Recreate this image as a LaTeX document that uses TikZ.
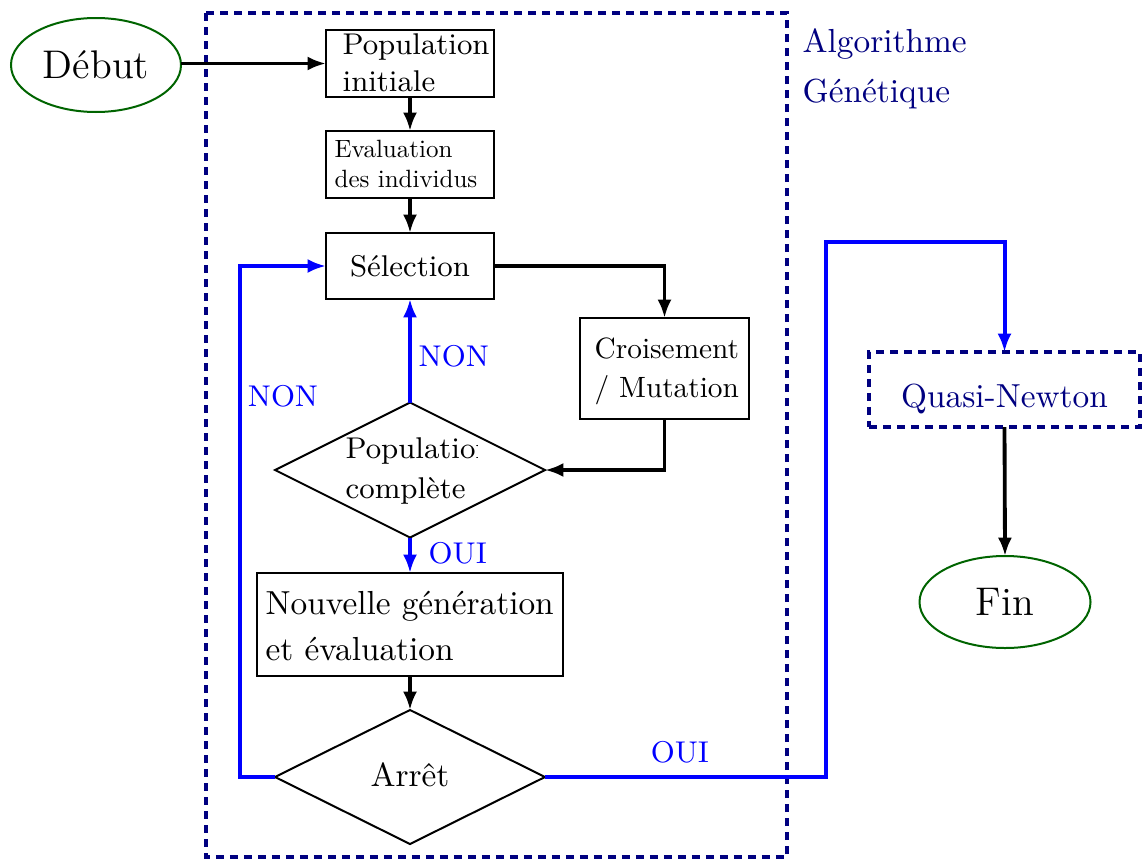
\documentclass[tikz,border=0pt]{standalone}
\usetikzlibrary{shapes.geometric,arrows.meta}
\definecolor{navy}{RGB}{0,0,128}
\definecolor{dgreen}{RGB}{0,100,0}
\definecolor{pblue}{RGB}{0,0,255}
\begin{document}
\begin{tikzpicture}[x=0.3pt,y=-0.3pt,
  boxnode/.style={draw,line width=0.6pt,inner sep=0pt,outer sep=0pt},
  ellnode/.style={draw=dgreen,ellipse,line width=0.6pt,inner sep=0pt,outer sep=0pt,font=\large},
  dianode/.style={draw,diamond,line width=0.6pt,inner sep=0pt,outer sep=0pt},
  blk/.style={line width=1.15pt,-{Latex[length=5.5pt,width=4.2pt]}},
  blu/.style={line width=1.2pt,draw=pblue,-{Latex[length=5.5pt,width=4.2pt]}},
  lbl/.style={text=pblue,font=\small,inner sep=0pt},
  frame/.style={draw=navy,line width=1.2pt,dash pattern=on 2.4pt off 1.8pt}]
\useasboundingbox (0,0) rectangle (1143,859);
% outer frame
\draw[frame] (206,13) rectangle (787,857);
\node[anchor=north west,text=navy,align=left,inner sep=0pt] (algo) at (802,28) {Algorithme\\[3pt]Génétique};
% nodes
\node[ellnode,minimum width=170*0.3pt,minimum height=94*0.3pt] (debut) at (96,65) {Début};
\node[boxnode,minimum width=168*0.3pt,minimum height=67*0.3pt] (pop) at (410,63.5) {};
\node[anchor=north west,font=\small,align=left,inner sep=0pt] (poptxt) at (342,33) {Population\\initiale};
\node[boxnode,minimum width=168*0.3pt,minimum height=67*0.3pt] (eval) at (410,164.5) {};
\node[anchor=west,inner sep=0pt] (evaltxt) at (334,166) {\scalebox{0.75}{\begin{tabular}{@{}l@{}}Evaluation\\des individus\end{tabular}}};
\node[boxnode,minimum width=168*0.3pt,minimum height=66*0.3pt,font=\small] (sel) at (410,266) {Sélection};
\node[boxnode,minimum width=169*0.3pt,minimum height=101*0.3pt] (crois) at (664.5,368.5) {};
\node[anchor=west,inner sep=0pt] (croistxt) at (594,371) {\scalebox{0.88}{\begin{tabular}{@{}l@{}}Croisement\\[1pt]/ Mutation\end{tabular}}};
\node[dianode,minimum width=270*0.3pt,minimum height=135*0.3pt,aspect=2] (comp) at (410,470) {};
\begin{scope}
\clip (300,420) rectangle (477,520);
\node[anchor=west,font=\small,align=left,inner sep=0pt] (comptxt) at (345,471) {Population\\[1pt]complète};
\end{scope}
\node[boxnode,minimum width=306*0.3pt,minimum height=103*0.3pt] (nouv) at (410,624.5) {};
\node[anchor=west,align=left,inner sep=0pt] (nouvtxt) at (265,626) {Nouvelle génération\\[2pt]et évaluation};
\node[dianode,minimum width=270*0.3pt,minimum height=134*0.3pt,aspect=2] (arret) at (410,777) {};
\node (arrettxt) at (410,775) {Arrêt};
\node[draw=navy,line width=1.2pt,dash pattern=on 2.4pt off 1.8pt,minimum width=271*0.3pt,minimum height=75*0.3pt,inner sep=0pt,outer sep=0pt] (qn) at (1004.5,389.5) {};
\node[text=navy] (qntxt) at (1004.5,399) {Quasi-Newton};
\node[ellnode,minimum width=171*0.3pt,minimum height=92*0.3pt] (fin) at (1005,602) {Fin};
% connectors
\draw[blk] (debut.east |- pop.west) -- (pop.west);
\draw[blk] (pop.south) -- (eval.north);
\draw[blk] (eval.south) -- (sel.north);
\draw[blk] (sel.east) -| (crois.north);
\draw[blk] (crois.south) |- (comp.east);
\draw[blu] (comp.north) -- node[lbl,anchor=west,xshift=2pt,pos=0.45] (non1) {NON} (sel.south);
\draw[blu] (comp.south) -- node[lbl,anchor=west,xshift=5pt,pos=0.45] (oui1) {OUI} (nouv.north);
\draw[blk] (nouv.south) -- (arret.north);
\coordinate (lc1) at (240,777);
\coordinate (lc2) at (240,266);
\draw[blu] (arret.west) -- (lc1) -- (lc2) -- (sel.west);
\node[lbl] (non2) at (283,396) {NON};
\coordinate (rc1) at (826,777);
\coordinate (rc2) at (826,242);
\coordinate (rc3) at (1004.5,242);
\draw[blu] (arret.east) -- (rc1) -- (rc2) -- (rc3) -- (qn.north);
\node[lbl] (oui2) at (680,752) {OUI};
\draw[blk] (qn.south) -- (fin.north);
\end{tikzpicture}
\end{document}
